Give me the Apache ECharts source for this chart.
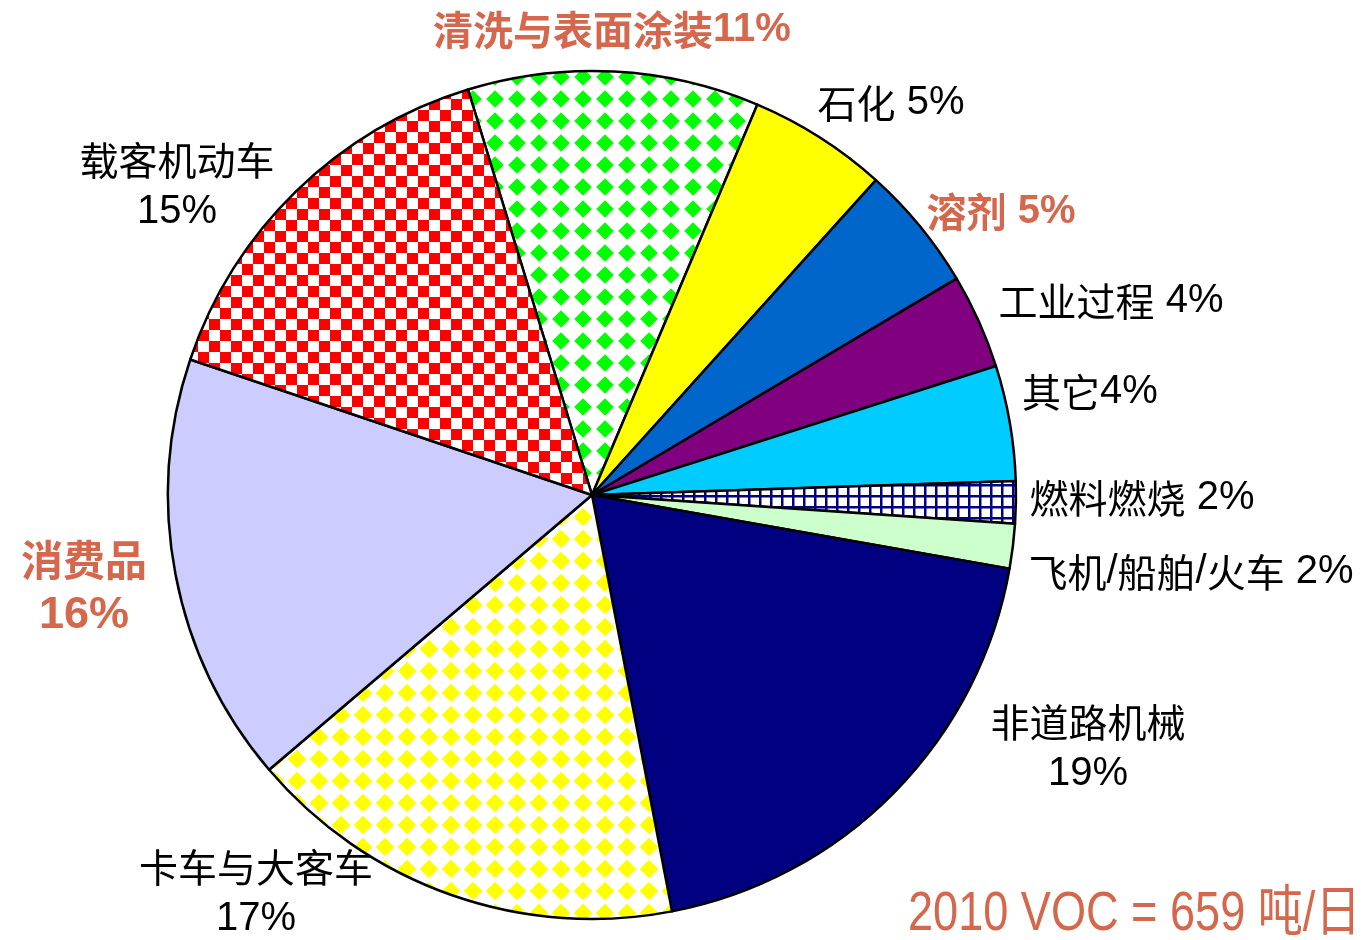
<!DOCTYPE html>
<html>
<head>
<meta charset="utf-8">
<script src="https://cdn.jsdelivr.net/npm/echarts@6/dist/echarts.min.js"></script>
<style>
html,body{margin:0;padding:0;background:#fff;}
#chart{width:1370px;height:940px;}
</style>
</head>
<body>
<div id="chart"></div>
<script>
// 排放来源（顺时针，从清洗与表面涂装开始）
var categories = ['清洗与表面涂装', '石化', '溶剂', '工业过程', '其它', '燃料燃烧', '飞机/船舶/火车', '非道路机械', '卡车与大客车', '消费品', '载客机动车'];
// 各来源占比（%，从图上估读）
var shares = [11.1, 5.3, 4.8, 3.6, 4.4, 1.6, 1.7, 19.2, 16.8, 16.4, 15.1];
// 图上标注的百分比
var pctLabels = ['11%', '5%', '5%', '4%', '4%', '2%', '2%', '19%', '17%', '16%', '15%'];
// 用橙色粗体突出的来源
var highlighted = ['清洗与表面涂装', '溶剂', '消费品'];
// 标签分两行的来源
var twoLine = ['非道路机械', '卡车与大客车', '消费品', '载客机动车'];
// 标签中心位置
var labelPos = [[612, 30], [891, 103], [1001, 212], [1111, 301], [1090, 392], [1142, 498], [1191, 572], [1088, 748], [256, 893], [84, 588], [177, 186]];

var ORANGE = '#D4674C';
var CN_FONT = '"Noto Sans CJK SC"';
var NUM_FONT = '"Liberation Sans", Arial';

//填充图案
function makeTile(size, draw) {
  var c = document.createElement('canvas');
  c.width = size; c.height = size;
  var ctx = c.getContext('2d');
  ctx.fillStyle = '#fff';
  ctx.fillRect(0, 0, size, size);
  draw(ctx, size);
  return { image: c, repeat: 'repeat' };
}
function diamond(color, r) {
  return makeTile(22, function (ctx) {
    ctx.fillStyle = color;
    ctx.beginPath();
    ctx.moveTo(11, 11 - r);
    ctx.lineTo(11 + r, 11);
    ctx.lineTo(11, 11 + r);
    ctx.lineTo(11 - r, 11);
    ctx.closePath();
    ctx.fill();
  });
}
var checker = makeTile(22, function (ctx) {
  ctx.fillStyle = '#FF0000';
  ctx.fillRect(0, 0, 11, 11);
  ctx.fillRect(11, 11, 11, 11);
});
var grid = makeTile(11, function (ctx) {
  ctx.fillStyle = '#000080';
  ctx.fillRect(0, 0, 11, 2.5);
  ctx.fillRect(0, 0, 2.5, 11);
});

var fills = [diamond('#00FF00', 8.8), '#FFFF00', '#0066CC', '#800080', '#00CCFF', grid, '#CCFFCC', '#000080', diamond('#FFFF00', 9.3), '#CCCCFF', checker];

var data = categories.map(function (name, i) {
  return { name: name, value: shares[i], itemStyle: { color: fills[i] } };
});

function fmt(params) {
  var i = params.dataIndex;
  var name = categories[i];
  var hl = highlighted.indexOf(name) >= 0;
  var cn = hl ? 'cnB' : 'cn';
  var num = hl ? 'numB' : 'num';
  if (name === '消费品') {
    return '{cnL|' + name + '}\n{numL|' + pctLabels[i] + '}';
  }
  if (twoLine.indexOf(name) >= 0) {
    return '{' + cn + '|' + name + '}\n{' + num + '|' + pctLabels[i] + '}';
  }
  var sep = (name === '清洗与表面涂装' || name === '其它') ? '' : ' ';
  var parts = name.split('/');
  var txt = parts.map(function (p) { return '{' + cn + '|' + p + '}'; }).join('{' + num + '|/}');
  return txt + '{' + num + '|' + sep + pctLabels[i] + '}';
}

var chart = echarts.init(document.getElementById('chart'));
var option = {
  backgroundColor: '#fff',
  animation: false,
  series: [{
    type: 'pie',
    center: [592, 495],
    radius: 424,
    startAngle: 107,
    clockwise: true,
    silent: true,
    itemStyle: { borderColor: '#000', borderWidth: 2.5 },
    label: {
      show: true,
      position: 'outside',
      formatter: fmt,
      overflow: 'none',
      width: 400,
      lineHeight: 52,
      rich: {
        cn: { fontFamily: CN_FONT, fontSize: 39, color: '#000', align: 'center', lineHeight: 52 },
        num: { fontFamily: NUM_FONT, fontSize: 40, color: '#000', align: 'center', lineHeight: 52 },
        cnB: { fontFamily: CN_FONT, fontSize: 40, fontWeight: 'bold', color: ORANGE, align: 'center', lineHeight: 52 },
        numB: { fontFamily: NUM_FONT, fontSize: 40, fontWeight: 'bold', color: ORANGE, align: 'center', lineHeight: 52 },
        cnL: { fontFamily: CN_FONT, fontSize: 42, fontWeight: 'bold', color: ORANGE, align: 'center', lineHeight: 56 },
        numL: { fontFamily: NUM_FONT, fontSize: 45, fontWeight: 'bold', color: ORANGE, align: 'center', lineHeight: 56 }
      }
    },
    labelLine: { show: false },
    labelLayout: function (params) {
      var p = labelPos[params.dataIndex];
      return { x: p[0], y: p[1], align: 'center', verticalAlign: 'middle' };
    },
    data: data
  }],
  graphic: [{
    type: 'text',
    x: 908,
    y: 915,
    scaleX: 0.82,
    style: {
      text: '2010 VOC = 659 吨/日',
      fill: ORANGE,
      font: '55px "Liberation Sans", "Noto Sans CJK SC"',
      verticalAlign: 'middle'
    }
  }]
};
chart.setOption(option);
</script>
</body>
</html>
